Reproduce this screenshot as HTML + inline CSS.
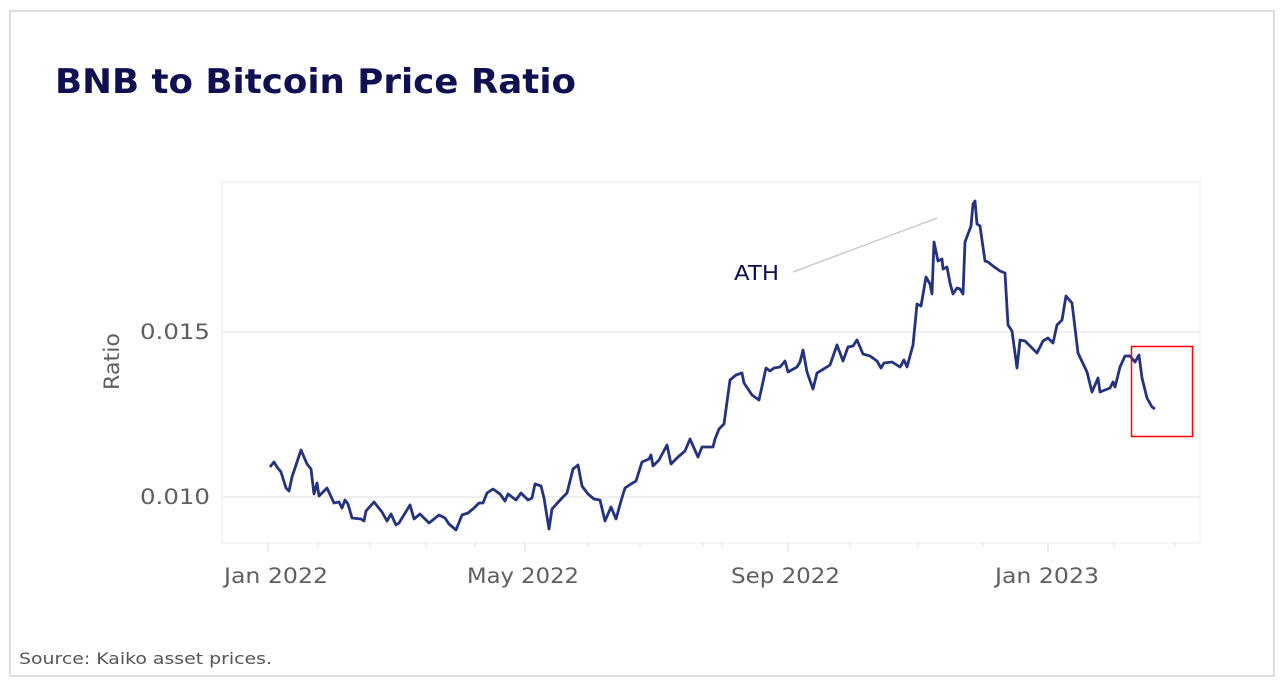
<!DOCTYPE html>
<html><head><meta charset="utf-8"><style>
html,body{margin:0;padding:0;background:#fff;width:1286px;height:684px;overflow:hidden}
svg{display:block;font-family:"DejaVu Sans","Liberation Sans",sans-serif}
</style></head><body>
<svg width="1286" height="684" viewBox="0 0 1286 684">
<rect x="10" y="11" width="1264" height="665" fill="#fff" stroke="#d3d3d3" stroke-width="1.5"/>
<text x="55" y="93" font-size="34" font-weight="bold" fill="#0f0f52" textLength="521" lengthAdjust="spacingAndGlyphs">BNB to Bitcoin Price Ratio</text>
<rect x="222" y="182" width="978" height="361" fill="none" stroke="#eeeeee" stroke-width="1.2"/>
<line x1="222" y1="332" x2="1200" y2="332" stroke="#ebebeb" stroke-width="1.5"/>
<line x1="222" y1="497" x2="1200" y2="497" stroke="#ebebeb" stroke-width="1.5"/>
<g stroke="#e3e3e3" stroke-width="1.2">
<line x1="268" y1="543" x2="268" y2="552"/><line x1="525" y1="543" x2="525" y2="552"/><line x1="788" y1="543" x2="788" y2="552"/><line x1="1048" y1="543" x2="1048" y2="552"/>
<line x1="318" y1="543" x2="318" y2="547"/><line x1="370" y1="543" x2="370" y2="547"/><line x1="426" y1="543" x2="426" y2="547"/><line x1="475" y1="543" x2="475" y2="547"/>
<line x1="588" y1="543" x2="588" y2="547"/><line x1="640" y1="543" x2="640" y2="547"/><line x1="703" y1="543" x2="703" y2="547"/><line x1="722" y1="543" x2="722" y2="547"/>
<line x1="850" y1="543" x2="850" y2="547"/><line x1="918" y1="543" x2="918" y2="547"/><line x1="983" y1="543" x2="983" y2="547"/><line x1="1114" y1="543" x2="1114" y2="547"/><line x1="1175" y1="543" x2="1175" y2="547"/>
</g>
<g font-size="21" fill="#5f5f5f">
<text x="224" y="583" textLength="104" lengthAdjust="spacingAndGlyphs">Jan 2022</text>
<text x="467" y="583" textLength="112" lengthAdjust="spacingAndGlyphs">May 2022</text>
<text x="731" y="583" textLength="109" lengthAdjust="spacingAndGlyphs">Sep 2022</text>
<text x="995" y="583" textLength="104" lengthAdjust="spacingAndGlyphs">Jan 2023</text>
<text x="140" y="339" textLength="70" lengthAdjust="spacingAndGlyphs">0.015</text>
<text x="140" y="504" textLength="70" lengthAdjust="spacingAndGlyphs">0.010</text>
</g>
<text transform="translate(119,390) rotate(-90)" font-size="21" fill="#5f5f5f" textLength="57" lengthAdjust="spacingAndGlyphs">Ratio</text>
<line x1="793" y1="272" x2="937" y2="218" stroke="#cccccc" stroke-width="1.5"/>
<text x="734" y="280" font-size="20" fill="#0f0f52" textLength="45" lengthAdjust="spacingAndGlyphs">ATH</text>
<polyline fill="none" stroke="#25337f" stroke-width="2.8" stroke-linejoin="round" points="270,467 274,462 277,467 281,472 286,488 289,491 292,477 301,450 307,464 311,469 314,494 317,483 319,496 327,488 334,503 339,502 342,508 345,500 348,504 352,518 361,519 364,521 366,511 374,502 382,512 387,521 391,514 396,525 399,523 410,505 414,519 420,514 429,523 439,515 445,518 449,524 456,530 462,515 468,513 474,508 479,503 483,503 487,493 493,489 500,494 505,501 508,494 516,500 521,493 528,500 532,498 535,484 541,486 544,498 549,529 552,509 562,498 567,493 573,469 578,465 582,486 588,494 594,499 600,500 605,521 611,507 616,519 621,501 625,488 631,484 636,481 642,462 649,459 651,455 653,466 659,460 667,445 671,464 678,457 685,451 690,439 698,457 702,447 713,447 715,439 719,429 724,424 730,380 736,375 742,373 744,383 752,395 759,400 766,368 770,371 774,368 780,367 785,361 788,372 797,367 800,362 803,350 807,372 813,389 817,373 822,370 830,365 837,345 843,361 848,347 853,346 857,340 863,354 870,356 877,361 881,368 884,363 892,362 900,367 904,360 907,367 913,345 917,304 921,306 926,277 930,284 932,294 934,242 938,261 942,259 943,269 947,267 950,283 953,294 957,288 960,289 963,294 965,242 971,226 973,204 975,201 977,224 980,226 985,261 988,262 993,266 1000,271 1005,273 1008,325 1012,331 1017,368 1020,340 1025,341 1037,353 1043,341 1048,338 1053,343 1057,325 1062,320 1066,296 1072,303 1078,353 1087,372 1092,392 1098,378 1100,392 1110,388 1113,382 1115,387 1120,367 1125,356 1130,356 1135,362 1139,355 1142,378 1147,398 1152,407 1155,409"/>
<rect x="1131.5" y="346.5" width="61" height="90" fill="none" stroke="#ff0000" stroke-width="1.5"/>
<text x="19" y="664" font-size="16" fill="#555" textLength="253" lengthAdjust="spacingAndGlyphs">Source: Kaiko asset prices.</text>
</svg>
</body></html>
